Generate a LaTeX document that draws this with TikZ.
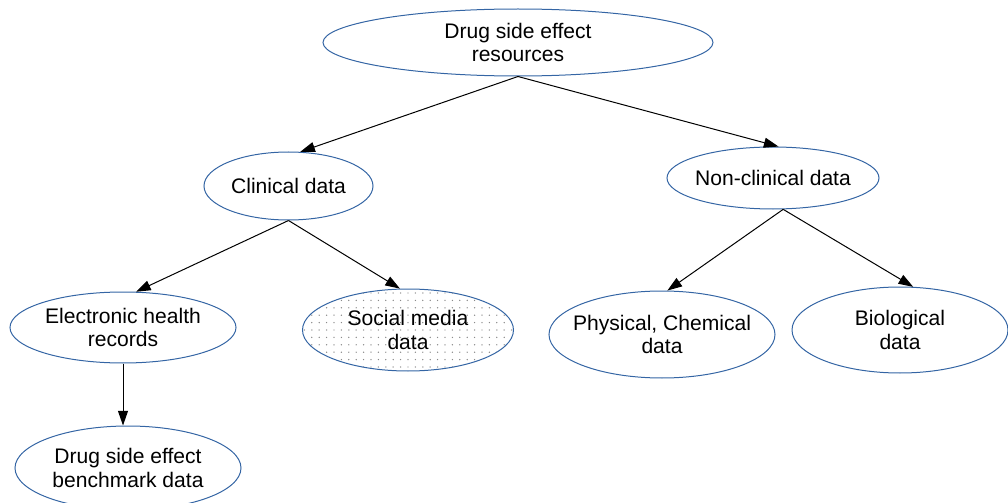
\documentclass[tikz,border=0pt]{standalone}
\usepackage{fontspec}
\setmainfont{Liberation Sans}
\usetikzlibrary{arrows.meta, positioning, shapes.geometric}

\definecolor{rimblue}{HTML}{3465A4}
\definecolor{dotgray}{HTML}{8A8A8A}

\begin{document}
\begin{tikzpicture}[x=0.75pt, y=-0.75pt,
    font=\fontsize{15.8}{17.6}\selectfont,
    blob/.style={draw=rimblue, line width=0.75pt, ellipse, align=center,
        inner sep=0pt, inner xsep=-20pt, inner ysep=-6pt},
    link/.style={-{Triangle[length=11pt, width=7.5pt]}, line width=0.75pt},
    dotfill/.style={path picture={
        \foreach \i in {-16,...,16} \foreach \j in {-7,...,7}
            \fill[dotgray] ([shift={(\i*7.4,\j*7.4)}]path picture bounding box.center) circle (0.55pt);
    }}]
    \useasboundingbox (0,0) rectangle (1008,503);

    % racine
    \node[blob, minimum width=390*0.75pt, minimum height=67*0.75pt] (root) at (518,42.5) {Drug side effect\\resources};

    % niveau 1
    \node[blob, minimum width=169*0.75pt, minimum height=68*0.75pt] (clin) at (288.5,186) {Clinical data};
    \node[blob, minimum width=212*0.75pt, minimum height=62*0.75pt] (nonclin) at (773,178) {Non-clinical data};

    % niveau 2
    \node[blob, minimum width=226*0.75pt, minimum height=71*0.75pt] (ehr) at (123,327.5) {Electronic health\\records};
    \node[blob, dotfill, minimum width=211*0.75pt, minimum height=82*0.75pt] (social) at (408,330) {Social media\\data};
    \node[blob, minimum width=226*0.75pt, minimum height=87*0.75pt] (phys) at (662,334.5) {Physical, Chemical\\data};
    \node[blob, minimum width=216*0.75pt, minimum height=86*0.75pt] (bio) at (900,330) {Biological\\data};

    % niveau 3
    \node[blob, minimum width=226*0.75pt, minimum height=84*0.75pt] (bench) at (128,468) {Drug side effect\\benchmark data};

    % fleches
    \draw[link] (root.south) -- (clin.71);
    \draw[link] (root.south) -- (nonclin.80);
    \draw[link] (clin.south) -- (ehr.70);
    \draw[link] (clin.south) -- (social.101);
    \draw[link] (nonclin.-72) -- (phys.83);
    \draw[link] (nonclin.-72) -- (bio.73);
    \draw[link] (ehr.south) -- (ehr.south |- bench.north);
\end{tikzpicture}
\end{document}
